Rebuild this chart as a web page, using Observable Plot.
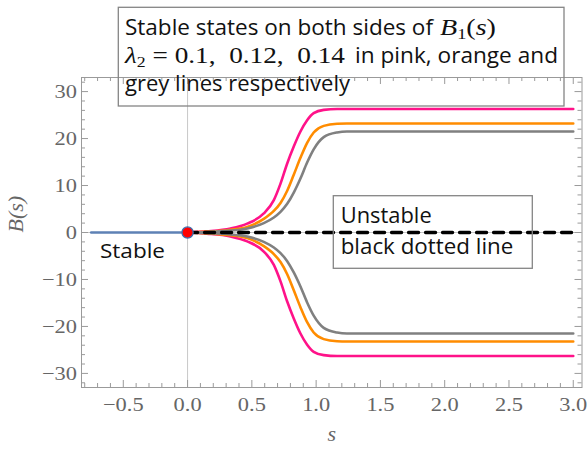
<!DOCTYPE html>
<html><head><meta charset="utf-8">
<script src="https://cdn.jsdelivr.net/npm/d3@7"></script>
<script src="https://cdn.jsdelivr.net/npm/@observablehq/plot@0.6"></script>
<style>body{margin:0;background:#fff}#chart{width:587px;height:450px}</style>
</head><body><div id="chart"></div>
<script>
// ---- data ----
const sVals        = [0, 0.15, 0.334, 0.464, 0.593, 0.671, 0.723, 0.775, 0.826, 0.878, 0.930, 0.981, 1.059, 1.163, 1.24, 1.4, 2.0, 3.0];
const pinkUpper    = [0, 0.25, 0.85, 1.9, 4.05, 6.9, 10.4, 14.7, 18.3, 21.5, 23.9, 25.4, 26.1, 26.3, 26.3, 26.3, 26.3, 26.3];
const pinkLower    = [0, -0.25, -0.85, -1.9, -4.05, -6.9, -10.4, -14.7, -18.3, -21.5, -23.9, -25.4, -26.1, -26.3, -26.3, -26.3, -26.3, -26.3];
const orangeUpper  = [0, 0.18, 0.6, 1.2, 2.9, 4.6, 6.3, 8.9, 12.3, 15.9, 19.1, 21.3, 22.7, 23.15, 23.2, 23.2, 23.2, 23.2];
const orangeLower  = [0, -0.18, -0.6, -1.2, -2.9, -4.6, -6.3, -8.9, -12.3, -15.9, -19.1, -21.3, -22.7, -23.15, -23.2, -23.2, -23.2, -23.2];
const greyUpper    = [0, 0.12, 0.4, 0.85, 2.0, 3.2, 4.4, 6.1, 8.5, 11.5, 14.9, 17.7, 20.3, 21.3, 21.5, 21.5, 21.5, 21.5];
const greyLower    = [0, -0.12, -0.4, -0.85, -2.0, -3.2, -4.4, -6.1, -8.5, -11.5, -14.9, -17.7, -20.3, -21.3, -21.5, -21.5, -21.5, -21.5];
const stableS      = [-0.75, 0];
const stableB      = [0, 0];
const unstableS    = [0, 3.0];
const unstableB    = [0, 0];
const pointS       = [0];
const pointB       = [0];
const seriesNames  = ["λ2 = 0.1", "λ2 = 0.12", "λ2 = 0.14"];
const seriesColors = ["#ff1289", "#ff8c00", "#808080"];
const xTicks       = [-0.5, 0, 0.5, 1, 1.5, 2, 2.5, 3];
const yTicks       = [-30, -20, -10, 0, 10, 20, 30];

// ---- tables ----
const branches = [
  [seriesNames[0], "up", pinkUpper], [seriesNames[0], "down", pinkLower],
  [seriesNames[1], "up", orangeUpper], [seriesNames[1], "down", orangeLower],
  [seriesNames[2], "up", greyUpper], [seriesNames[2], "down", greyLower]
];
const rows = branches.flatMap(([series, side, vals]) =>
  vals.map((B, i) => ({s: sVals[i], B, series, branch: series + side})));
const stableRows = stableS.map((s, i) => ({s, B: stableB[i]}));
const unstableRows = unstableS.map((s, i) => ({s, B: unstableB[i]}));
const pointRows = pointS.map((s, i) => ({s, B: pointB[i]}));
const xMinor = d3.range(-8, 31).map(i => i / 10).filter(v => !xTicks.some(t => Math.abs(t - v) < 1e-9));
const yMinor = d3.range(-32, 33, 2).filter(v => !yTicks.includes(v));

const W = 587, H = 450, mL = 81, mR = 5.5, mT = 77, mB = 63;
const fw = W - mL - mR, fh = H - mT - mB;
const frameCol = "#9a9a9a";
const fmt = d => (d < 0 ? "\u2212" : "") + Math.abs(d);
const fmtX = d => (d < 0 ? "\u2212" : "") + Math.abs(d).toFixed(1);

const plot = Plot.plot({
  width: W, height: H, marginLeft: mL, marginRight: mR, marginTop: mT, marginBottom: mB,
  x: {domain: [-0.825, 3.068]},
  y: {domain: [-33, 33]},
  color: {domain: seriesNames, range: seriesColors},
  style: {fontFamily: "Liberation Serif", fontSize: "19px", color: "#666", background: "#fff"},
  marks: [
    Plot.ruleX([0], {stroke: "#c8c8c8", strokeWidth: 1}),
    Plot.ruleY([0], {stroke: "#c8c8c8", strokeWidth: 1}),
    Plot.line(rows, {x: "s", y: "B", z: "branch", stroke: "series", strokeWidth: 2.6, curve: "monotone-x"}),
    Plot.line(stableRows, {x: "s", y: "B", stroke: "#5e81b5", strokeWidth: 2.4}),
    Plot.line(unstableRows, {x: "s", y: "B", stroke: "#000", strokeWidth: 3.4, strokeDasharray: "10,7"}),
    Plot.dot(pointRows, {x: "s", y: "B", r: 5.6, fill: "#ff0000", stroke: "#3f6faf", strokeWidth: 1.3}),
    Plot.frame({stroke: frameCol, strokeWidth: 1}),
    Plot.tickX(xTicks, {insetTop: fh - 7, stroke: frameCol}),
    Plot.tickX(xMinor, {insetTop: fh - 4, stroke: frameCol}),
    Plot.tickX(xTicks, {insetBottom: fh - 7, stroke: frameCol}),
    Plot.tickX(xMinor, {insetBottom: fh - 4, stroke: frameCol}),
    Plot.tickY(yTicks, {insetRight: fw - 7, stroke: frameCol}),
    Plot.tickY(yMinor, {insetRight: fw - 4, stroke: frameCol}),
    Plot.tickY(yTicks, {insetLeft: fw - 7, stroke: frameCol}),
    Plot.tickY(yMinor, {insetLeft: fw - 4, stroke: frameCol}),
    Plot.axisX({ticks: xTicks, tickSize: 0, tickPadding: 10, tickFormat: fmtX, label: null}),
    Plot.axisY({ticks: yTicks, tickSize: 0, tickPadding: 4.5, tickFormat: fmt, label: null}),
    Plot.text(["s"], {text: d => d, frameAnchor: "bottom", dy: 53, fontStyle: "italic", fontSize: 22, fill: "#666"}),
    Plot.text(["B(s)"], {text: d => d, frameAnchor: "left", dx: -65.5, rotate: -90, fontStyle: "italic", fontSize: 22, fill: "#666"})
  ]
});
document.getElementById("chart").appendChild(plot);

// widen the serif tick labels a little, as in the reference
d3.select(plot).selectAll('g[aria-label="x-axis tick label"] text, g[aria-label="y-axis tick label"] text')
  .each(function () {
    const l = this.getComputedTextLength();
    this.setAttribute("textLength", l * 1.18);
    this.setAttribute("lengthAdjust", "spacingAndGlyphs");
  });

// ---- annotation boxes ----
const svg = d3.select(plot);
const ann = svg.append("g").attr("fill", "#111").attr("text-anchor", "start");
const SANS = "Open Sans", SERIF = "Liberation Serif";
function box(x, y, w, h) {
  ann.append("rect").attr("x", x).attr("y", y).attr("width", w).attr("height", h)
    .attr("fill", "none").attr("stroke", "#858585").attr("stroke-width", 1.3);
}
function text(parts, x, y, len, size, family) {
  const t = ann.append("text").attr("x", x).attr("y", y)
    .attr("text-anchor", "start")
    .attr("font-family", family).attr("font-size", size)
    .style("white-space", "pre");
  for (const p of parts) {
    const sp = t.append("tspan").text(p.t);
    if (p.italic) sp.attr("font-style", "italic");
    if (p.size) sp.attr("font-size", p.size);
    if (p.dy) sp.attr("dy", p.dy);
  }
  if (len) t.attr("textLength", len).attr("lengthAdjust", "spacingAndGlyphs");
  return t;
}
box(118.3, 7.3, 445.7, 98.7);
text([{t: "Stable states on both sides of"}], 125, 35, 308, 21, SANS);
text([{t: "B", italic: true}, {t: "1", size: 15, dy: 4}, {t: "(", dy: -4}, {t: "s", italic: true}, {t: ")"}], 440, 35, 56, 23, SERIF);
text([{t: "λ", italic: true}, {t: "2", size: 15, dy: 4}, {t: " = 0.1,  0.12,  0.14", dy: -4}], 125, 63.3, 220, 23, SERIF);
text([{t: "in pink, orange and"}], 355, 63.3, 203, 21, SANS);
text([{t: "grey lines respectively"}], 125, 90.7, 225, 21, SANS);
box(333.3, 195.7, 199, 72.6);
text([{t: "Unstable"}], 340.7, 223.3, 91, 21, SANS);
text([{t: "black dotted line"}], 340.7, 254.3, 172.6, 21, SANS);
text([{t: "Stable"}], 100, 258.3, 65, 20.5, SANS);
</script></body></html>
